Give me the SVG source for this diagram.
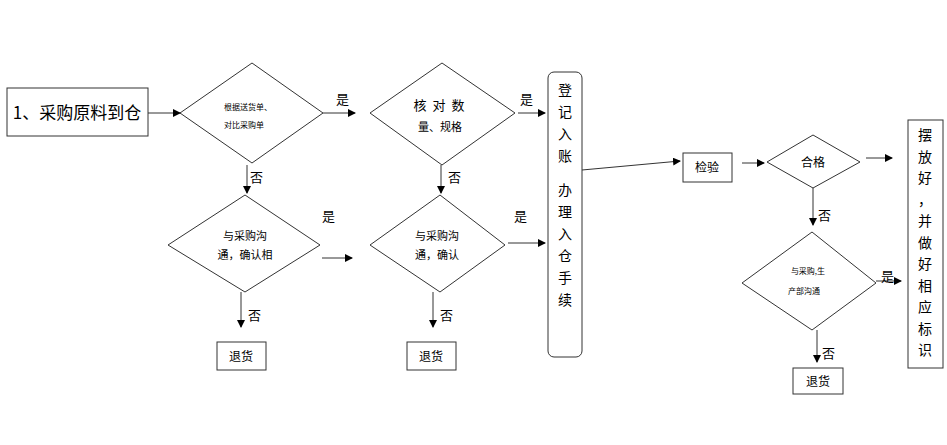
<svg xmlns="http://www.w3.org/2000/svg" width="947" height="445" viewBox="0 0 947 445">
<style>
.s{fill:#fff;stroke:#333;stroke-width:1}
.t{font-family:"Noto Sans CJK SC",sans-serif;fill:#000}
.c line{stroke:#333;stroke-width:1;marker-end:url(#a)}
</style>
<defs><marker id="a" markerWidth="8" markerHeight="8" refX="7" refY="4" orient="auto" markerUnits="userSpaceOnUse"><path d="M0,0L8,4L0,8z" fill="#000"/></marker></defs>
<rect width="947" height="445" fill="#fff"/>
<g id="n1"><rect class="s" x="7" y="88" width="141" height="48"/><text class="t" x="77" y="119" font-size="17" text-anchor="middle">1、采购原料到仓</text></g>
<g id="d1"><polygon class="s" points="180,113 252,63 323,113 252,163"/><text class="t" x="248" y="110" font-size="8" text-anchor="middle">根据送货单、</text><text class="t" x="244" y="128" font-size="8" text-anchor="middle">对比采购单</text></g>
<g id="d2"><polygon class="s" points="370,113 442,63 515,113 442,165"/><text class="t" x="442" y="110" font-size="13" text-anchor="middle" letter-spacing="6">核对数</text><text class="t" x="440" y="131" font-size="11" text-anchor="middle">量、规格</text></g>
<g id="d3"><polygon class="s" points="168,245 245,195 320,245 245,292"/><text class="t" x="245" y="240" font-size="11" text-anchor="middle">与采购沟</text><text class="t" x="245" y="259" font-size="11" text-anchor="middle">通，确认相</text></g>
<g id="d4"><polygon class="s" points="370,245 440,195 505,245 440,292"/><text class="t" x="437" y="240" font-size="11" text-anchor="middle">与采购沟</text><text class="t" x="437" y="259" font-size="11" text-anchor="middle">通，确认</text></g>
<g id="r1"><rect class="s" x="217" y="342" width="49" height="28"/><text class="t" x="241" y="361" font-size="12" text-anchor="middle">退货</text></g>
<g id="r2"><rect class="s" x="407" y="342" width="49" height="28"/><text class="t" x="431" y="361" font-size="12" text-anchor="middle">退货</text></g>
<g id="reg"><rect class="s" x="548" y="72" width="34" height="285" rx="6"/>
<text class="t" font-size="14" text-anchor="middle"><tspan x="565" y="95">登</tspan><tspan x="565" y="117">记</tspan><tspan x="565" y="139">入</tspan><tspan x="565" y="161">账</tspan><tspan x="565" y="195">办</tspan><tspan x="565" y="217">理</tspan><tspan x="565" y="239">入</tspan><tspan x="565" y="261">仓</tspan><tspan x="565" y="283">手</tspan><tspan x="565" y="305">续</tspan></text></g>
<g id="jy"><rect class="s" x="683" y="153" width="49" height="29"/><text class="t" x="707" y="172" font-size="12" text-anchor="middle">检验</text></g>
<g id="d5"><polygon class="s" points="767,162 813,135 860,162 813,188"/><text class="t" x="813" y="167" font-size="12" text-anchor="middle">合格</text></g>
<g id="d6"><polygon class="s" points="742,283 812,232 876,283 812,330"/><text class="t" x="808" y="274" font-size="8" text-anchor="middle">与采购,生</text><text class="t" x="804" y="294" font-size="8" text-anchor="middle">产部沟通</text></g>
<g id="r3"><rect class="s" x="793" y="368" width="50" height="26"/><text class="t" x="818" y="386" font-size="12" text-anchor="middle">退货</text></g>
<g id="fin"><rect class="s" x="908" y="120" width="35" height="248"/>
<text class="t" font-size="14" text-anchor="middle"><tspan x="925" y="140">摆</tspan><tspan x="925" y="161.5">放</tspan><tspan x="925" y="183">好</tspan><tspan x="925" y="204.5">，</tspan><tspan x="925" y="226">并</tspan><tspan x="925" y="247.5">做</tspan><tspan x="925" y="269">好</tspan><tspan x="925" y="290.5">相</tspan><tspan x="925" y="312">应</tspan><tspan x="925" y="333.5">标</tspan><tspan x="925" y="355">识</tspan></text></g>
<g class="c">
<line x1="148" y1="113" x2="180" y2="113"/>
<line x1="323" y1="113" x2="355" y2="113"/>
<line x1="518" y1="113" x2="545" y2="113"/>
<line x1="247" y1="165" x2="247" y2="193"/>
<line x1="441" y1="165" x2="441" y2="193"/>
<line x1="322" y1="258" x2="352" y2="258"/>
<line x1="508" y1="243" x2="545" y2="243"/>
<line x1="241" y1="292" x2="241" y2="327"/>
<line x1="433" y1="292" x2="433" y2="327"/>
<line x1="582" y1="170" x2="680" y2="161"/>
<line x1="742" y1="163" x2="764" y2="163"/>
<line x1="866" y1="158" x2="892" y2="158"/>
<line x1="813" y1="188" x2="813" y2="225"/>
<line x1="876" y1="281" x2="901" y2="281"/>
<line x1="817" y1="330" x2="817" y2="362"/>
</g>
<g class="t" font-size="13">
<text x="336" y="104">是</text><text x="520" y="104">是</text>
<text x="250" y="182">否</text><text x="448" y="182">否</text>
<text x="322" y="221">是</text><text x="514" y="221">是</text>
<text x="248" y="320">否</text><text x="440" y="320">否</text>
<text x="818" y="220">否</text><text x="881" y="281">是</text><text x="822" y="358">否</text>
</g>
</svg>
